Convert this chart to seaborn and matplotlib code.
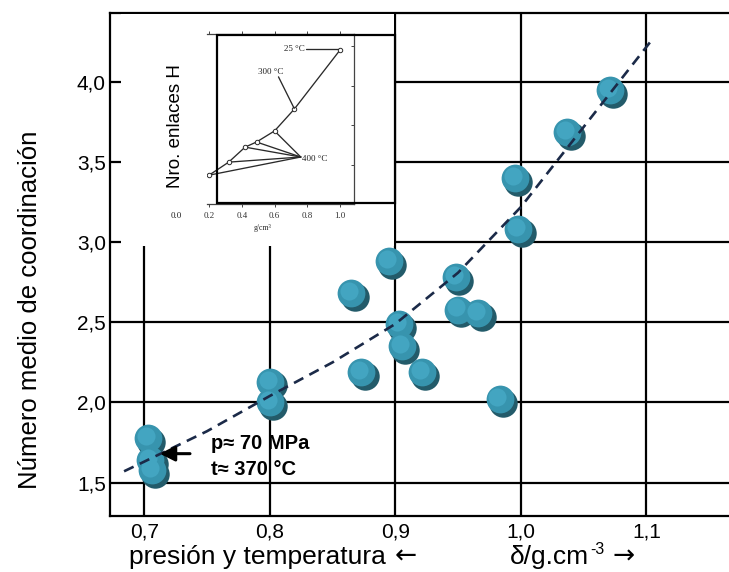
import numpy as np
import pandas as pd
import matplotlib
matplotlib.use("Agg")
import matplotlib.pyplot as plt
import matplotlib.patches as mpatches
from matplotlib.transforms import ScaledTranslation
import seaborn as sns

# ---------------- data ----------------
density = [0.703, 0.705, 0.706, 0.800, 0.800, 0.865, 0.873, 0.895, 0.903, 0.905,
           0.921, 0.948, 0.950, 0.966, 0.983, 0.995, 0.998, 1.037, 1.071]
coordination = [1.78, 1.64, 1.58, 2.13, 2.00, 2.68, 2.19, 2.88, 2.49, 2.35,
                2.19, 2.78, 2.58, 2.56, 2.02, 3.40, 3.08, 3.69, 3.95]

trend_x = [0.684, 0.70, 0.75, 0.80, 0.85, 0.90, 0.95, 1.00, 1.05, 1.10, 1.105]
trend_y = [1.57, 1.63, 1.82, 2.04, 2.25, 2.49, 2.81, 3.22, 3.72, 4.22, 4.27]

x_ticks = [0.7, 0.8, 0.9, 1.0, 1.1]
x_ticklabels = ["0,7", "0,8", "0,9", "1,0", "1,1"]
y_ticks = [1.5, 2.0, 2.5, 3.0, 3.5, 4.0]
y_ticklabels = ["1,5", "2,0", "2,5", "3,0", "3,5", "4,0"]

# inset (scanned figure): H-bond number vs density
inset_x = [0.20, 0.32, 0.42, 0.49, 0.60, 0.72, 1.00]
inset_y = [0.73, 1.06, 1.44, 1.57, 1.85, 2.40, 3.90]
inset_400_x = 0.76
inset_400_y = 1.19
inset_fan_idx = [0, 1, 2, 3, 4]
inset_ticks = [0.2, 0.4, 0.6, 0.8, 1.0]
inset_ticklabels = ["0.2", "0.4", "0.6", "0.8", "1.0"]

df = pd.DataFrame({"density": density, "coord": coordination})
df_trend = pd.DataFrame({"x": trend_x, "y": trend_y})

# ---------------- figure ----------------
sns.set_theme(style="white")
plt.rcParams["font.family"] = ["Liberation Sans", "DejaVu Sans"]
for k in ["text.color", "axes.labelcolor", "xtick.color", "ytick.color"]:
    plt.rcParams[k] = "black"

W, H = 729, 572
fig = plt.figure(figsize=(W / 100, H / 100), dpi=100)
fig.patch.set_facecolor("white")


def box(x0, y0, x1, y1):
    return [x0 / W, 1 - y1 / H, (x1 - x0) / W, (y1 - y0) / H]


ax = fig.add_axes(box(110, 13, 729, 515.5))
ax.set_facecolor("white")
ax.set_xlim(0.6728, 1.1657)
ax.set_ylim(1.294, 4.431)
ax.set_xticks(x_ticks)
ax.set_xticklabels(x_ticklabels, fontsize=15)
ax.set_yticks(y_ticks)
ax.set_yticklabels(y_ticklabels, fontsize=15)
ax.tick_params(axis="both", length=0, colors="black")
ax.tick_params(axis="x", pad=5)
ax.tick_params(axis="y", pad=3)
ax.grid(True, color="black", linewidth=1.6)
ax.set_axisbelow(True)
for side in ["left", "bottom", "top"]:
    ax.spines[side].set_visible(True)
    ax.spines[side].set_color("black")
    ax.spines[side].set_linewidth(1.6)
ax.spines["right"].set_visible(False)

# dashed trend curve
sns.lineplot(data=df_trend, x="x", y="y", ax=ax, color="#1b2a48",
             linewidth=1.9, zorder=3)
trend_line = ax.lines[-1]
trend_line.set_dashes((4, 2.6))

# 3D-looking blob markers: shadow, body, highlight
def blob_layer(color, size, dx, dy, z):
    sns.scatterplot(data=df, x="density", y="coord", ax=ax, s=size,
                    color=color, linewidth=0, zorder=z, legend=False)
    coll = ax.collections[-1]
    coll.set_offset_transform(ax.transData +
                              ScaledTranslation(dx / 72, dy / 72, fig.dpi_scale_trans))

blob_layer("#235b6a", 420, 2.4, -2.8, 2)
blob_layer("#3794ae", 400, 0, 0, 2.1)
blob_layer("#43a5c1", 170, -1.5, 1.5, 2.2)
trend_line.set_zorder(3)

ax.set_xlabel("")
ax.set_ylabel("")

# annotation
ax.annotate("", xy=(0.7125, 1.68), xytext=(0.7365, 1.68),
            arrowprops=dict(arrowstyle="-|>,head_length=0.75,head_width=0.38",
                            color="black", lw=2.2, shrinkA=0, shrinkB=0), zorder=4)
ax.text(0.7535, 1.745, "p≈ 70 MPa", fontsize=14.5, fontweight="bold",
        ha="left", va="center", zorder=4)
ax.text(0.7535, 1.58, "t≈ 370 °C", fontsize=14.5, fontweight="bold",
        ha="left", va="center", zorder=4)

# axis labels
fig.text(30 / W, 1 - 310 / H, "Número medio de coordinación", rotation=90,
         fontsize=18.5, ha="center", va="center")
fig.text(129 / W, 1 - 557 / H, "presión y temperatura", fontsize=19,
         ha="left", va="center")
fig.text(406 / W, 1 - 557 / H, "←", fontsize=19, family="DejaVu Sans",
         ha="center", va="center")
fig.text(510 / W, 1 - 557 / H, "δ/g.cm", fontsize=19, ha="left", va="center")
fig.text(590 / W, 1 - 549 / H, "-3", fontsize=11.5, ha="left", va="center")
fig.text(624 / W, 1 - 557 / H, "→", fontsize=19, family="DejaVu Sans",
         ha="center", va="center")

# ---------------- inset ----------------
ax_bg = fig.add_axes(box(121, 14.5, 394.3, 246), zorder=2)
ax_bg.set_facecolor("white")
ax_bg.set_xticks([])
ax_bg.set_yticks([])
for s in ax_bg.spines.values():
    s.set_visible(False)

ax2 = fig.add_axes(box(207.4, 34.2, 354.3, 204), zorder=3)
ax2.patch.set_alpha(0)
ax2.set_xlim(0.19, 1.087)
ax2.set_ylim(0, 4.3)
ax2.spines["left"].set_visible(False)
for side in ["top", "bottom", "right"]:
    ax2.spines[side].set_visible(True)
    ax2.spines[side].set_color("#444444")
    ax2.spines[side].set_linewidth(0.9)
ax2.set_xticks(inset_ticks)
ax2.set_xticklabels(inset_ticklabels, fontsize=6.5, family="Liberation Serif",
                    color="#333333")
ax2.tick_params(axis="x", which="both", bottom=True, top=True, direction="out",
                length=2.5, width=0.7, colors="#444444", pad=3, labelcolor="#333333")
ax2.yaxis.set_ticks_position("right")
ax2.set_yticks([1, 2, 3, 4])
ax2.set_yticklabels([])
ax2.tick_params(axis="y", direction="in", length=2.5, width=0.7, colors="#444444")
ax2.grid(False)

line_kw = dict(color="#2a2a2a", lw=0.95)
ax2.plot(inset_x, inset_y, **line_kw)
for i in inset_fan_idx:
    ax2.plot([inset_x[i], inset_400_x], [inset_y[i], inset_400_y], **line_kw)
ax2.plot(inset_x, inset_y, linestyle="none", marker="o", markersize=3.2,
         markerfacecolor="white", markeredgecolor="#2a2a2a", markeredgewidth=0.7)
ax2.plot([0.79, 0.985], [3.92, 3.92], **line_kw)
ax2.plot([0.624, 0.72], [3.22, 2.42], **line_kw)
serif = dict(family="Liberation Serif", fontsize=6.5, color="#222222")
ax2.text(0.785, 3.92, "25 °C", ha="right", va="center", **serif)
ax2.text(0.575, 3.35, "300 °C", ha="center", va="center", **serif)
ax2.text(0.765, 1.14, "400 °C", ha="left", va="center", **serif)
ax2.text(0.0, -0.05, "0.0", ha="center", va="top", clip_on=False,
         transform=ax2.get_xaxis_transform(), **serif)
ax2.text(0.525, -0.5, "g/cm³", ha="center", va="top", clip_on=False,
         family="Liberation Serif", fontsize=5.5, color="#222222")
ax2.set_xlabel("")
ax2.set_ylabel("")

fig.text(176 / W, 1 - 126 / H, "Nro. enlaces H", rotation=90, fontsize=13.5,
         ha="center", va="center", zorder=5)

rect = mpatches.Rectangle((217 / W, 1 - 203 / H), 178.3 / W, 168 / H,
                          transform=fig.transFigure, fill=False,
                          edgecolor="black", linewidth=1.6, zorder=6)
fig.add_artist(rect)

fig.savefig("out.png", dpi=100, facecolor="white")
